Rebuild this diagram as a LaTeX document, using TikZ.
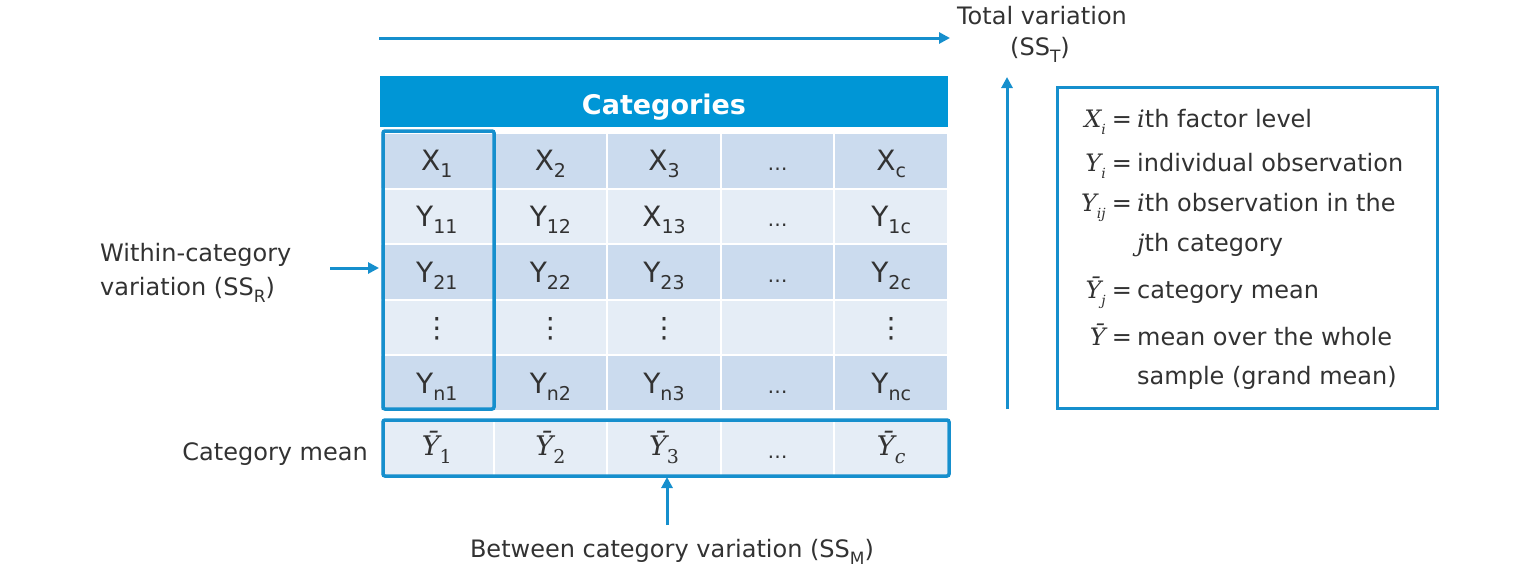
\documentclass[tikz,border=0pt]{standalone}
\usepackage{fontspec}
\setmainfont{DejaVu Sans}
\newfontfamily\symfam{DejaVu Serif}
\usetikzlibrary{arrows.meta}
\definecolor{lineblue}{RGB}{22,143,205}
\definecolor{headblue}{RGB}{0,150,214}
\definecolor{rowdark}{RGB}{203,219,238}
\definecolor{rowlight}{RGB}{229,237,246}
\definecolor{txt}{RGB}{50,50,50}
\newcommand{\lsub}[1]{\raisebox{-0.32em}{\fontsize{17}{17}\selectfont #1}}
\newcommand{\csub}[1]{\raisebox{-0.25em}{\fontsize{19}{19}\selectfont #1}}
\newcommand{\celldots}{{\fontsize{20}{22}\selectfont …}}
\newcommand{\cellvd}{{\fontsize{28}{30}\selectfont ⋮}}
% legend symbols: serif italic with small lowered subscript
\newcommand{\lsym}[2]{{\symfam\itshape #1\raisebox{-0.3em}{\fontsize{14}{14}\selectfont #2}}}
\newcommand{\msym}[1]{{\symfam\itshape Ȳ\raisebox{-0.3em}{\fontsize{19}{19}\selectfont #1}}}
\newcommand{\msymup}[1]{{\symfam\itshape Ȳ\raisebox{-0.3em}{\fontsize{19}{19}\selectfont\upshape #1}}}
\newcommand{\iti}[1]{{\symfam\itshape #1}}
\begin{document}
\begin{tikzpicture}[x=1pt,y=-1pt,
  every node/.style={text=txt, font=\fontsize{24}{28}\selectfont},
  cell/.style={minimum width=113.6pt, minimum height=55.6pt, inner sep=0pt,
     draw=white, line width=2pt, font=\fontsize{28}{30}\selectfont,
     text height=20pt, text depth=0pt},
  dk/.style={cell, fill=rowdark},
  lt/.style={cell, fill=rowlight},
  mcell/.style={lt, font=\fontsize{27}{30}\selectfont, text height=14pt},
  arr/.style={draw=lineblue, line width=3pt, -{Triangle[length=11pt,width=11pt]}},
  hbox/.style={draw=lineblue, line width=3.5pt, rounded corners=2pt},
  lab/.style={anchor=base, inner sep=0pt},
]
\useasboundingbox (0,0) rectangle (1536,576);

% header
\node[fill=headblue, minimum width=568pt, minimum height=51pt, inner sep=0pt] (head) at (664,101.5) {};
\node[anchor=base, inner sep=0pt, text=white, font=\fontsize{27}{30}\selectfont\bfseries] (headtxt) at (664,114) {Categories};

% cells
\node[dk] (x1) at (436.8,160.8) {X\csub{1}};
\node[dk] (x2) at (550.4,160.8) {X\csub{2}};
\node[dk] (x3) at (664,160.8) {X\csub{3}};
\node[dk] (x4) at (777.6,160.8) {\celldots};
\node[dk] (x5) at (891.2,160.8) {X\csub{c}};

\node[lt] (a1) at (436.8,216.4) {Y\csub{11}};
\node[lt] (a2) at (550.4,216.4) {Y\csub{12}};
\node[lt] (a3) at (664,216.4) {X\csub{13}};
\node[lt] (a4) at (777.6,216.4) {\celldots};
\node[lt] (a5) at (891.2,216.4) {Y\csub{1c}};

\node[dk] (b1) at (436.8,272) {Y\csub{21}};
\node[dk] (b2) at (550.4,272) {Y\csub{22}};
\node[dk] (b3) at (664,272) {Y\csub{23}};
\node[dk] (b4) at (777.6,272) {\celldots};
\node[dk] (b5) at (891.2,272) {Y\csub{2c}};

\node[lt] (d1) at (436.8,327.6) {\cellvd};
\node[lt] (d2) at (550.4,327.6) {\cellvd};
\node[lt] (d3) at (664,327.6) {\cellvd};
\node[lt] (d4) at (777.6,327.6) {};
\node[lt] (d5) at (891.2,327.6) {\cellvd};

\node[dk] (n1) at (436.8,383.2) {Y\csub{n1}};
\node[dk] (n2) at (550.4,383.2) {Y\csub{n2}};
\node[dk] (n3) at (664,383.2) {Y\csub{n3}};
\node[dk] (n4) at (777.6,383.2) {\celldots};
\node[dk] (n5) at (891.2,383.2) {Y\csub{nc}};

\node[mcell] (m1) at (436.8,448) {\msymup{1}};
\node[mcell] (m2) at (550.4,448) {\msymup{2}};
\node[mcell] (m3) at (664,448) {\msymup{3}};
\node[lt] (m4) at (777.6,448) {\celldots};
\node[mcell] (m5) at (891.2,448) {\msym{c}};

% highlight boxes
\draw[hbox] (383,131) rectangle (494,409);
\draw[hbox] (383,420) rectangle (949,476);

% labels
\node[anchor=base west, inner sep=0pt] (within1) at (100,261) {Within-category};
\node[anchor=base west, inner sep=0pt] (within2) at (100,295) {variation (SS\lsub{R})};
\coordinate (wstart) at (330,268);
\draw[arr] (wstart) -- (b1.west |- wstart);

\node[anchor=base east, inner sep=0pt] (catmean) at (368,460) {Category mean};

\node[lab] (between) at (672,557) {Between category variation (SS\lsub{M})};
\coordinate (bstart) at (667,525);
\coordinate (bend) at (667,477);
\draw[arr] (bstart) -- (bend);

\node[lab] (total1) at (1042,24) {Total variation};
\node[lab] (total2) at (1040,55) {(SS\lsub{T})};
\coordinate (tl) at (379,38);
\coordinate (tr) at (950,38);
\draw[arr] (tl) -- (tr);
\coordinate (vb) at (1007,409);
\coordinate (vt) at (1007,77);
\draw[arr] (vb) -- (vt);

% legend
\node[draw=lineblue, line width=3pt, minimum width=380pt, minimum height=321pt, inner sep=0pt] (legend) at (1247,247.5) {};
\foreach \yy/\sym/\txt in {127/{\lsym{X}{i}}/{\iti{i}th factor level},
                          171/{\lsym{Y}{i}}/{individual observation},
                          211/{\lsym{Y}{ij}}/{\iti{i}th observation in the},
                          298/{\lsym{Ȳ}{j}}/{category mean},
                          345/{\lsym{Ȳ}{}}/{mean over the whole}}{
  \node[anchor=base east, inner sep=0pt] at (1106,\yy) {\sym};
  \node[anchor=base, inner sep=0pt] at (1122,\yy) {=};
  \node[anchor=base west, inner sep=0pt] at (1137,\yy) {\txt};
}
\node[anchor=base west, inner sep=0pt] (l4) at (1137,251) {\iti{j}th category};
\node[anchor=base west, inner sep=0pt] (l7) at (1137,384) {sample (grand mean)};
\end{tikzpicture}
\end{document}
